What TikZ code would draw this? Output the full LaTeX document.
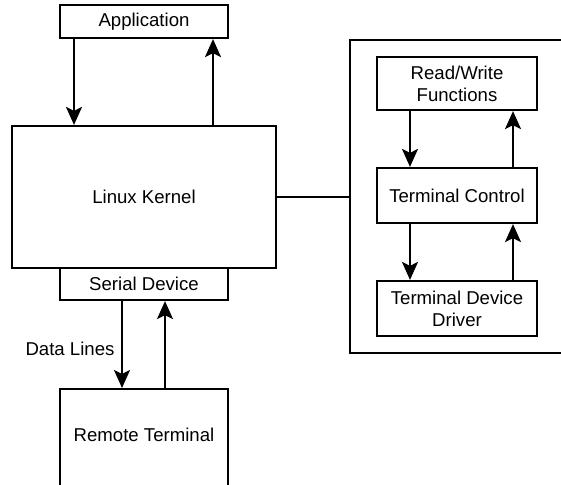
\documentclass[tikz,border=0pt]{standalone}
\usepackage{fontspec}
\setmainfont{Liberation Sans}
\usetikzlibrary{arrows.meta,calc}
\begin{document}
\begin{tikzpicture}[x=0.5pt,y=-0.5pt,
  box/.style={draw,line width=1.1pt,inner sep=0pt,align=center,font=\fontsize{9.3}{11}\selectfont},
  arr/.style={line width=1.1pt,-{Stealth[length=9pt,width=8pt,inset=2pt]}},
  conn/.style={line width=1.1pt},
  lbl/.style={font=\fontsize{9.3}{11}\selectfont,inner sep=0pt}]
\useasboundingbox (0,0) rectangle (561,484);
\node[box,minimum width=84pt,minimum height=16.5pt] (app) at (144,21.5) {Application};
\node[box,minimum width=132pt,minimum height=71pt] (kernel) at (144,197) {Linux Kernel};
\node[box,minimum width=84pt,minimum height=16pt] (serial) at (144,284) {Serial Device};
\node[box,minimum width=84pt,minimum height=60pt,anchor=north] (remote) at (144,388) {};
\node[lbl] (remotetxt) at (144,435) {Remote Terminal};
\node[lbl] (data) at (70,349) {Data Lines};
\node[box,minimum width=135pt,minimum height=156.5pt] (outer) at (485,196.5) {};
\node[box,minimum width=80pt,minimum height=26.5pt] (rw) at (457,83.5) {Read/Write\\Functions};
\node[box,minimum width=80pt,minimum height=27.5pt] (tc) at (457,195.5) {Terminal Control};
\node[box,minimum width=80pt,minimum height=27.5pt] (tdd) at (457,308.5) {Terminal Device\\Driver};
% arrows
\draw[arr] ($(app.south)+(-70,0)$) -- ($(kernel.north)+(-70,0)$);
\draw[arr] ($(kernel.north)+(69,0)$) -- ($(app.south)+(69,0)$);
\draw[arr] ($(serial.south)+(-22,0)$) -- ($(remote.north)+(-22,0)$);
\draw[arr] ($(remote.north)+(21,0)$) -- ($(serial.south)+(21,0)$);
\draw[arr] ($(rw.south)+(-47,0)$) -- ($(tc.north)+(-47,0)$);
\draw[arr] ($(tc.north)+(56,0)$) -- ($(rw.south)+(56,0)$);
\draw[arr] ($(tc.south)+(-47,0)$) -- ($(tdd.north)+(-47,0)$);
\draw[arr] ($(tdd.north)+(56,0)$) -- ($(tc.south)+(56,0)$);
\draw[conn] (kernel.east) -- (kernel.east -| outer.west);
\end{tikzpicture}
\end{document}
